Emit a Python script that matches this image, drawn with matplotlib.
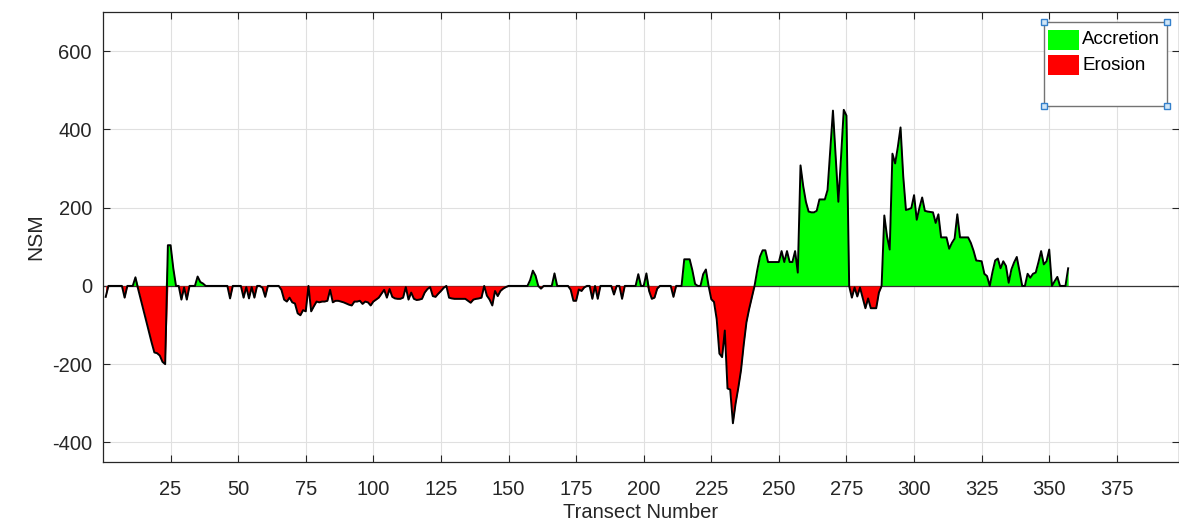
import numpy as np
import matplotlib
matplotlib.use("Agg")
import matplotlib.pyplot as plt
from matplotlib.patches import Rectangle
from matplotlib.lines import Line2D

# Net shoreline movement (NSM) per transect, transects 1..357
nsm = [
    -28, 0, 0, 0, 0, 0, 0, -30, 0, 0,
    0, 22, -8, -35, -62, -90, -118, -145, -170, -172,
    -178, -194, -200, 104, 104, 45, 0, 0, -35, -4,
    -35, 0, 0, 0, 24, 10, 6, 0, 0, 0,
    0, 0, 0, 0, 0, 0, -32, 0, 0, 0,
    0, -30, -3, -32, -3, -30, 0, 0, -5, -28,
    0, 0, 0, 0, 0, -10, -35, -40, -30, -42,
    -45, -70, -75, -62, -65, 0, -65, -52, -40, -42,
    -40, -40, -38, -10, -42, -38, -38, -40, -42, -45,
    -48, -50, -40, -40, -38, -46, -40, -42, -50, -40,
    -35, -30, -20, -10, -30, -8, -28, -32, -33, -33,
    -30, -3, -35, -17, -33, -36, -35, -33, -17, -8,
    -3, -26, -28, -20, -13, -5, 0, -30, -32, -33,
    -33, -33, -33, -33, -38, -43, -35, -33, -32, -30,
    0, -25, -35, -50, -13, -26, -13, -7, -3, 0,
    0, 0, 0, 0, 0, 0, 0, 15, 39, 26,
    0, -7, 0, 0, 0, 0, 32, 0, 0, 0,
    0, 0, -10, -38, -38, -9, -13, -4, 0, 0,
    -33, 0, -33, 0, 0, 0, 0, 0, -22, 0,
    0, -33, 0, 0, 0, 0, 0, 30, 0, 0,
    32, -13, -33, -30, -7, 0, 0, 0, 0, 0,
    -28, 0, 0, 0, 68, 68, 68, 40, 5, 0,
    0, 30, 42, 0, -34, -41, -85, -173, -182, -114,
    -262, -265, -351, -300, -260, -215, -150, -93, -59, -30,
    0, 40, 75, 91, 91, 61, 61, 61, 61, 61,
    89, 61, 89, 61, 61, 89, 34, 308, 255, 215,
    190, 188, 188, 192, 221, 221, 221, 245, 345, 448,
    330, 215, 330, 450, 435, 0, -30, -4, -27, -4,
    -30, -57, -32, -57, -57, -57, -17, 0, 180, 127,
    93, 338, 313, 355, 405, 280, 194, 196, 199, 232,
    169, 200, 226, 192, 190, 189, 188, 161, 183, 124,
    124, 124, 95, 110, 121, 183, 124, 124, 124, 124,
    110, 90, 65, 64, 63, 31, 25, 0, 35, 65,
    70, 45, 63, 51, 8, 42, 60, 74, 38, 0,
    0, 31, 21, 31, 34, 60, 89, 55, 63, 93,
    0, 12, 23, 0, 0, 0, 45,
]

x_ticks = [25, 50, 75, 100, 125, 150, 175, 200, 225, 250, 275, 300, 325, 350, 375]
y_ticks = [-400, -200, 0, 200, 400, 600]
legend_labels = ["Accretion", "Erosion"]

transect = np.arange(1, len(nsm) + 1)
values = np.array(nsm, dtype=float)

plt.rcParams["font.family"] = ["Liberation Sans", "DejaVu Sans"]
plt.rcParams["axes.unicode_minus"] = False
axis_gray = (0.15, 0.15, 0.15)

W, H = 1179, 524
fig = plt.figure(figsize=(W / 100, H / 100), dpi=100)
ax = fig.add_axes([103 / W, 1 - 462 / H, 1 - 103 / W, (462 - 12) / H])

green = (0.0, 1.0, 0.0)
red = (1.0, 0.0, 0.0)
ax.fill_between(transect, 0, np.maximum(values, 0), color=green, linewidth=0, zorder=2)
ax.axhline(0, color=(0.2, 0.2, 0.2), linewidth=0.9, zorder=2.5)
ax.fill_between(transect, np.minimum(values, 0), 0, color=red, linewidth=0, zorder=3)
ax.plot(transect, values, color="black", linewidth=1.4, zorder=4)

ax.set_xlim(0, 398)
ax.set_ylim(-450, 700)
ax.set_xticks(x_ticks)
ax.set_yticks(y_ticks)
ax.grid(True, color=(0.88, 0.88, 0.88), linewidth=0.8, zorder=0)
ax.set_axisbelow(True)
ax.tick_params(direction="in", length=5, width=0.8, colors=axis_gray,
               labelsize=14.5, top=True, right=True)
ax.tick_params(axis="x", pad=13)
ax.tick_params(axis="y", pad=8)
for s in ax.spines.values():
    s.set_color(axis_gray)
    s.set_linewidth(0.9)

ax.set_xlabel("Transect Number", fontsize=14.5, color=axis_gray, labelpad=3)
ax.set_ylabel("NSM", fontsize=15, color=axis_gray, labelpad=5)

# legend box with its entries
bx0, bx1 = 1044 / W, 1167 / W
by0, by1 = 1 - 106 / H, 1 - 22 / H
fig.add_artist(Rectangle((bx0, by0), bx1 - bx0, by1 - by0, transform=fig.transFigure,
                         facecolor="white", edgecolor=(0.45, 0.45, 0.45), linewidth=1.0,
                         zorder=5))
entries = [(green, 30, 50), (red, 55, 75)]
for (col, top, bot), label in zip(entries, legend_labels):
    fig.add_artist(Rectangle((1048 / W, 1 - bot / H), 31 / W, (bot - top) / H,
                             transform=fig.transFigure, facecolor=col, edgecolor="none",
                             zorder=6))
    fig.text(1082 / W, 1 - (top + bot) / 2 / H, label, fontsize=13.5, color="black",
             ha="left", va="center", zorder=6)
for cx, cy in [(bx0, by0), (bx0, by1), (bx1, by0), (bx1, by1)]:
    fig.add_artist(Line2D([cx], [cy], transform=fig.transFigure, marker="s", markersize=5,
                          markerfacecolor=(0.82, 0.9, 0.97), markeredgecolor=(0.2, 0.5, 0.8),
                          markeredgewidth=1.0, linestyle="none", zorder=7))

fig.savefig("out.png", dpi=100)
